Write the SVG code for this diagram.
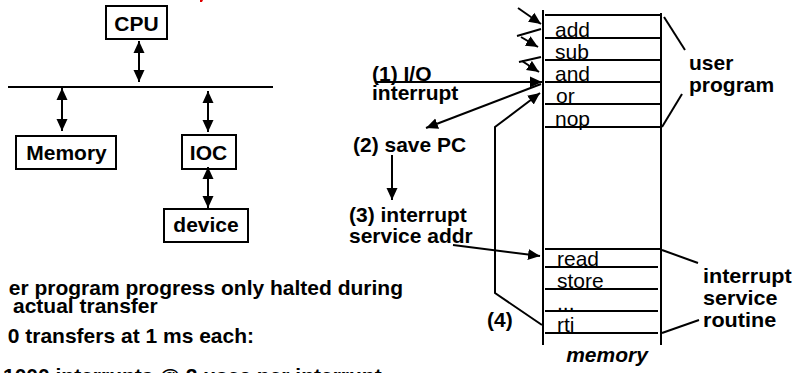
<svg xmlns="http://www.w3.org/2000/svg" width="795" height="373" viewBox="0 0 795 373">
  <style>
    .ln { stroke: #000; stroke-width: 2; fill: none; }
    .box { stroke: #000; stroke-width: 2; fill: #fff; }
    .b { font-family: "Liberation Sans", Arial, sans-serif; font-weight: bold; font-size: 20px; fill: #000; }
    .r { font-family: "Liberation Sans", Arial, sans-serif; font-size: 20px; fill: #000; }
    .bi { font-family: "Liberation Sans", Arial, sans-serif; font-weight: bold; font-style: italic; font-size: 20px; fill: #000; }
    .arr { marker-end: url(#head); }
    .dbl { marker-start: url(#head); marker-end: url(#head); }
  </style>
  <defs>
    <marker id="head" viewBox="0 0 12 12" refX="12" refY="6" markerWidth="12" markerHeight="12" markerUnits="userSpaceOnUse" orient="auto-start-reverse">
      <path d="M0,0.5 L12,6 L0,11.5 z" fill="#000"/>
    </marker>
  </defs>
  <rect width="795" height="373" fill="#fff"/>

  <!-- fragment of the red title above the frame -->
  <path d="M200,0 L203,0 L202,2 L200,2 z" fill="#e00000"/>

  <!-- bus system -->
  <g id="bus">
    <line class="ln" x1="8" y1="87" x2="273" y2="87"/>
  </g>
  <g id="cpu">
    <rect class="box" x="106" y="6" width="61" height="33"/>
    <text class="b" transform="translate(136.5 31) scale(1.05 1)" text-anchor="middle">CPU</text>
  </g>
  <g id="memory-box">
    <rect class="box" x="16" y="136" width="100" height="33"/>
    <text class="b" transform="translate(66.5 160) scale(1.05 1)" text-anchor="middle">Memory</text>
  </g>
  <g id="ioc">
    <rect class="box" x="182" y="135" width="54" height="34"/>
    <text class="b" transform="translate(208.5 160) scale(1.05 1)" text-anchor="middle">IOC</text>
  </g>
  <g id="device">
    <rect class="box" x="164" y="209" width="84" height="33"/>
    <text class="b" transform="translate(206 232) scale(1.05 1)" text-anchor="middle">device</text>
  </g>

  <!-- memory column -->
  <g id="memory-column">
    <line class="ln" x1="543" y1="10" x2="543" y2="345"/>
    <line class="ln" x1="661" y1="13" x2="661" y2="345"/>
    <line class="ln" x1="545" y1="15" x2="660" y2="15"/>
    <line class="ln" x1="545" y1="38" x2="660" y2="38"/>
    <line class="ln" x1="545" y1="60" x2="660" y2="60"/>
    <line class="ln" x1="545" y1="82" x2="660" y2="82"/>
    <line class="ln" x1="545" y1="104" x2="660" y2="104"/>
    <line class="ln" x1="545" y1="127" x2="660" y2="127"/>
    <line class="ln" x1="545" y1="249" x2="660" y2="249"/>
    <line class="ln" x1="545" y1="267" x2="658" y2="267"/>
    <line class="ln" x1="545" y1="289" x2="658" y2="289"/>
    <line class="ln" x1="545" y1="311" x2="658" y2="311"/>
    <line class="ln" x1="545" y1="333" x2="658" y2="333"/>
    <text class="r" transform="translate(555 37) scale(1.05 1)">add</text>
    <text class="r" transform="translate(555 59) scale(1.05 1)">sub</text>
    <text class="r" transform="translate(555 81) scale(1.05 1)">and</text>
    <text class="r" transform="translate(556 103) scale(1.05 1)">or</text>
    <text class="r" transform="translate(555 126) scale(1.05 1)">nop</text>
    <text class="r" transform="translate(557 266) scale(1.05 1)">read</text>
    <text class="r" transform="translate(557 288) scale(1.05 1)">store</text>
    <text class="r" transform="translate(557 310) scale(1.05 1)" fill="#666">...</text>
    <text class="r" transform="translate(557 332) scale(1.05 1)">rti</text>
    <text class="bi" transform="translate(607 362) scale(1.05 1)" text-anchor="middle">memory</text>
  </g>

  <g id="user-program">
    <text class="b" transform="translate(689 70) scale(1.05 1)">user</text>
    <text class="b" transform="translate(689 92) scale(1.05 1)">program</text>
  </g>
  <g id="service-routine">
    <text class="b" transform="translate(703 283) scale(1.08 1)">interrupt</text>
    <text class="b" transform="translate(703 305) scale(1.08 1)">service</text>
    <text class="b" transform="translate(703 327) scale(1.08 1)">routine</text>
  </g>

  <g id="steps">
    <text class="b" transform="translate(372 81) scale(1.05 1)">(1) I/O</text>
    <text class="b" transform="translate(372 100) scale(1.05 1)">interrupt</text>
    <text class="b" transform="translate(353 152) scale(1.05 1)">(2) save PC</text>
    <text class="b" transform="translate(349 222) scale(1.05 1)">(3) interrupt</text>
    <text class="b" transform="translate(349 243) scale(1.05 1)">service addr</text>
    <text class="b" transform="translate(487 327) scale(1.05 1)">(4)</text>
  </g>

  <g id="notes">
    <text class="b" transform="translate(403 295) scale(1.05 1)" text-anchor="end">er program progress only halted during</text>
    <text class="b" transform="translate(13 313) scale(1.05 1)">actual transfer</text>
    <text class="b" transform="translate(254 343) scale(1.05 1)" text-anchor="end">0 transfers at 1 ms each:</text>
    <text class="b" transform="translate(3 383) scale(1.05 1)">1000 interrupts @ 2 usec per interrupt</text>
  </g>

  <g id="connectors">
    <!-- bus links -->
    <line class="ln dbl" x1="139" y1="41" x2="139" y2="82"/>
    <line class="ln dbl" x1="62" y1="88" x2="62" y2="131"/>
    <line class="ln dbl" x1="208" y1="91" x2="208" y2="132"/>
    <line class="ln dbl" x1="208" y1="167" x2="208" y2="208"/>
    <!-- program counter stepping -->
    <line class="ln arr" x1="518" y1="8" x2="541" y2="24"/>
    <line class="ln" x1="517" y1="36" x2="541" y2="29"/>
    <line class="ln arr" x1="521" y1="37" x2="538" y2="47"/>
    <line class="ln" x1="519" y1="62" x2="541" y2="57"/>
    <line class="ln arr" x1="522" y1="61" x2="539" y2="72"/>
    <!-- (1) interrupt -->
    <line class="ln arr" x1="376" y1="82" x2="542" y2="82"/>
    <!-- (2) save PC -->
    <line class="ln arr" x1="541" y1="84" x2="426" y2="128"/>
    <line class="ln arr" x1="392" y1="155" x2="392" y2="200"/>
    <!-- (3) jump to service routine -->
    <line class="ln arr" x1="453" y1="245" x2="540" y2="256"/>
    <!-- (4) return from interrupt -->
    <polyline class="ln arr" points="542,325 495,293 495,127 540,93"/>
    <!-- braces -->
    <line class="ln" x1="664" y1="17" x2="685" y2="50"/>
    <line class="ln" x1="662" y1="127" x2="682" y2="94"/>
    <line class="ln" x1="662" y1="250" x2="698" y2="263"/>
    <line class="ln" x1="662" y1="333" x2="699" y2="320"/>
  </g>
</svg>
